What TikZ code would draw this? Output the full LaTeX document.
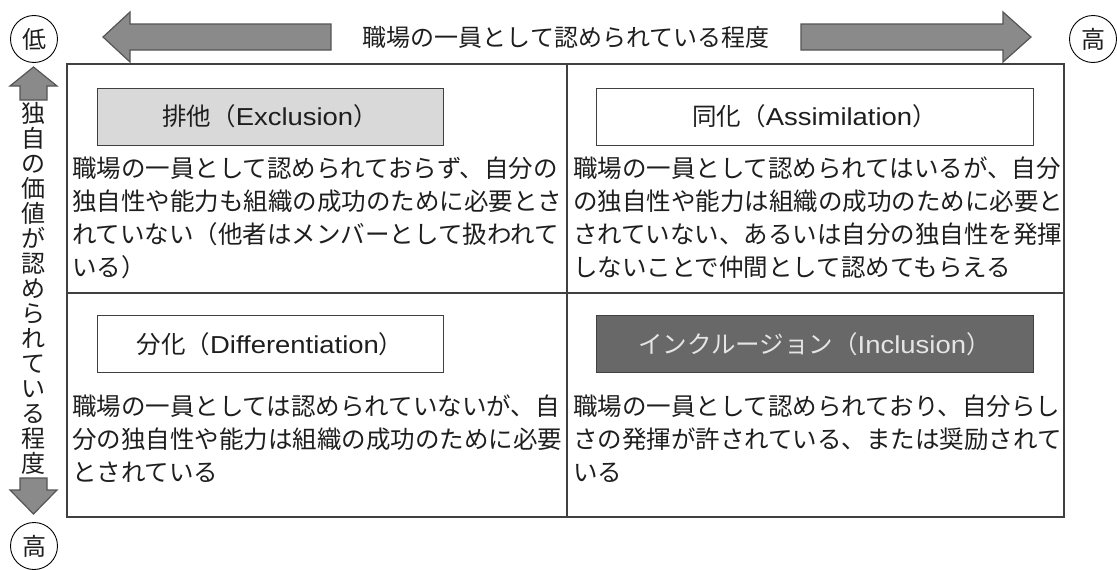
\documentclass[tikz,border=0pt]{standalone}
\usepackage{fontspec}
\setmainfont{Noto Sans CJK JP}
\newfontfamily\lat[FakeStretch=1.12]{Liberation Sans}
\definecolor{arrfill}{HTML}{8A8A8A}
\definecolor{arrline}{HTML}{555555}
\definecolor{lightbox}{HTML}{D9D9D9}
\definecolor{darkbox}{HTML}{686868}
\definecolor{txt}{HTML}{1E1E1E}
\definecolor{frm}{HTML}{404040}
\begin{document}
\begin{tikzpicture}[x=1pt,y=-1pt,
  blockarrow/.style={fill=arrfill,draw=arrline,line width=1.2pt,line join=miter},
  circ/.style={circle,draw=black,line width=0.9pt,minimum size=47pt,inner sep=0pt,font=\fontsize{24}{24}\selectfont,text=txt},
  labelbox/.style={draw=frm,line width=1pt,minimum width=#1,minimum height=57pt,inner sep=0pt,font=\fontsize{24.5}{24}\selectfont,text=txt},
  para/.style={anchor=north west,inner sep=0pt,align=left,font=\fontsize{24.5}{33}\selectfont,text=txt},
  frameline/.style={draw=frm,line width=1.2pt}]
\useasboundingbox (0,0) rectangle (1117,570);
% circles
\node[circ] (lowL) at (34,39) {低};
\node[circ] (highR) at (1093,39) {高};
\node[circ] (highB) at (34,546) {高};
% horizontal axis
\node[inner sep=0pt,font=\fontsize{24}{24}\selectfont,text=txt] (htitle) at (566,37) {職場の一員として認められている程度};
\draw[blockarrow] (331,24) -- (130,24) -- (130,12) -- (103,37) -- (130,62) -- (130,50) -- (331,50) -- cycle;
\draw[blockarrow] (801,24) -- (1003,24) -- (1003,12) -- (1031,37) -- (1003,62) -- (1003,50) -- (801,50) -- cycle;
% vertical axis
\draw[blockarrow] (20,100) -- (20,86) -- (10,86) -- (33.5,67) -- (57,86) -- (47,86) -- (47,100) -- cycle;
\draw[blockarrow] (20,478) -- (47,478) -- (47,490) -- (57,490) -- (33.5,514) -- (10,490) -- (20,490) -- cycle;
\node[inner sep=0pt,align=center,font=\fontsize{24}{25}\selectfont,text=txt] (vtitle) at (33.5,288)
  {独\\自\\の\\価\\値\\が\\認\\め\\ら\\れ\\て\\い\\る\\程\\度};
% frame
\coordinate (fNW) at (67,64);
\coordinate (fSE) at (1064,517);
\coordinate (mT) at (567,64);
\coordinate (mB) at (567,517);
\coordinate (mL) at (67,293);
\coordinate (mR) at (1064,293);
\draw[frameline] (fNW) rectangle (fSE);
\draw[frameline] (mT) -- (mB);
\draw[frameline] (mL) -- (mR);
% label boxes
\node[labelbox=346pt,fill=lightbox] (excl) at (270,116.5) {排他（{\lat Exclusion}）};
\node[labelbox=437pt,fill=white] (assim) at (814.5,116.5) {同化（{\lat Assimilation}）};
\node[labelbox=346pt,fill=white] (diff) at (270,344) {分化（{\lat Differentiation}）};
\node[labelbox=437pt,fill=darkbox,text=white!90!black] (incl) at (814.5,344) {インクルージョン（{\lat Inclusion}）};
% paragraphs
\node[para] (pTL) at (72,157) {職場の一員として認められておらず、自分の\\独自性や能力も組織の成功のために必要とさ\\れていない（他者はメンバーとして扱われて\\いる）};
\node[para] (pTR) at (573,157) {職場の一員として認められてはいるが、自分\\の独自性や能力は組織の成功のために必要と\\されていない、あるいは自分の独自性を発揮\\しないことで仲間として認めてもらえる};
\node[para] (pBL) at (72,395) {職場の一員としては認められていないが、自\\分の独自性や能力は組織の成功のために必要\\とされている};
\node[para] (pBR) at (573,395) {職場の一員として認められており、自分らし\\さの発揮が許されている、または奨励されて\\いる};
\end{tikzpicture}
\end{document}
